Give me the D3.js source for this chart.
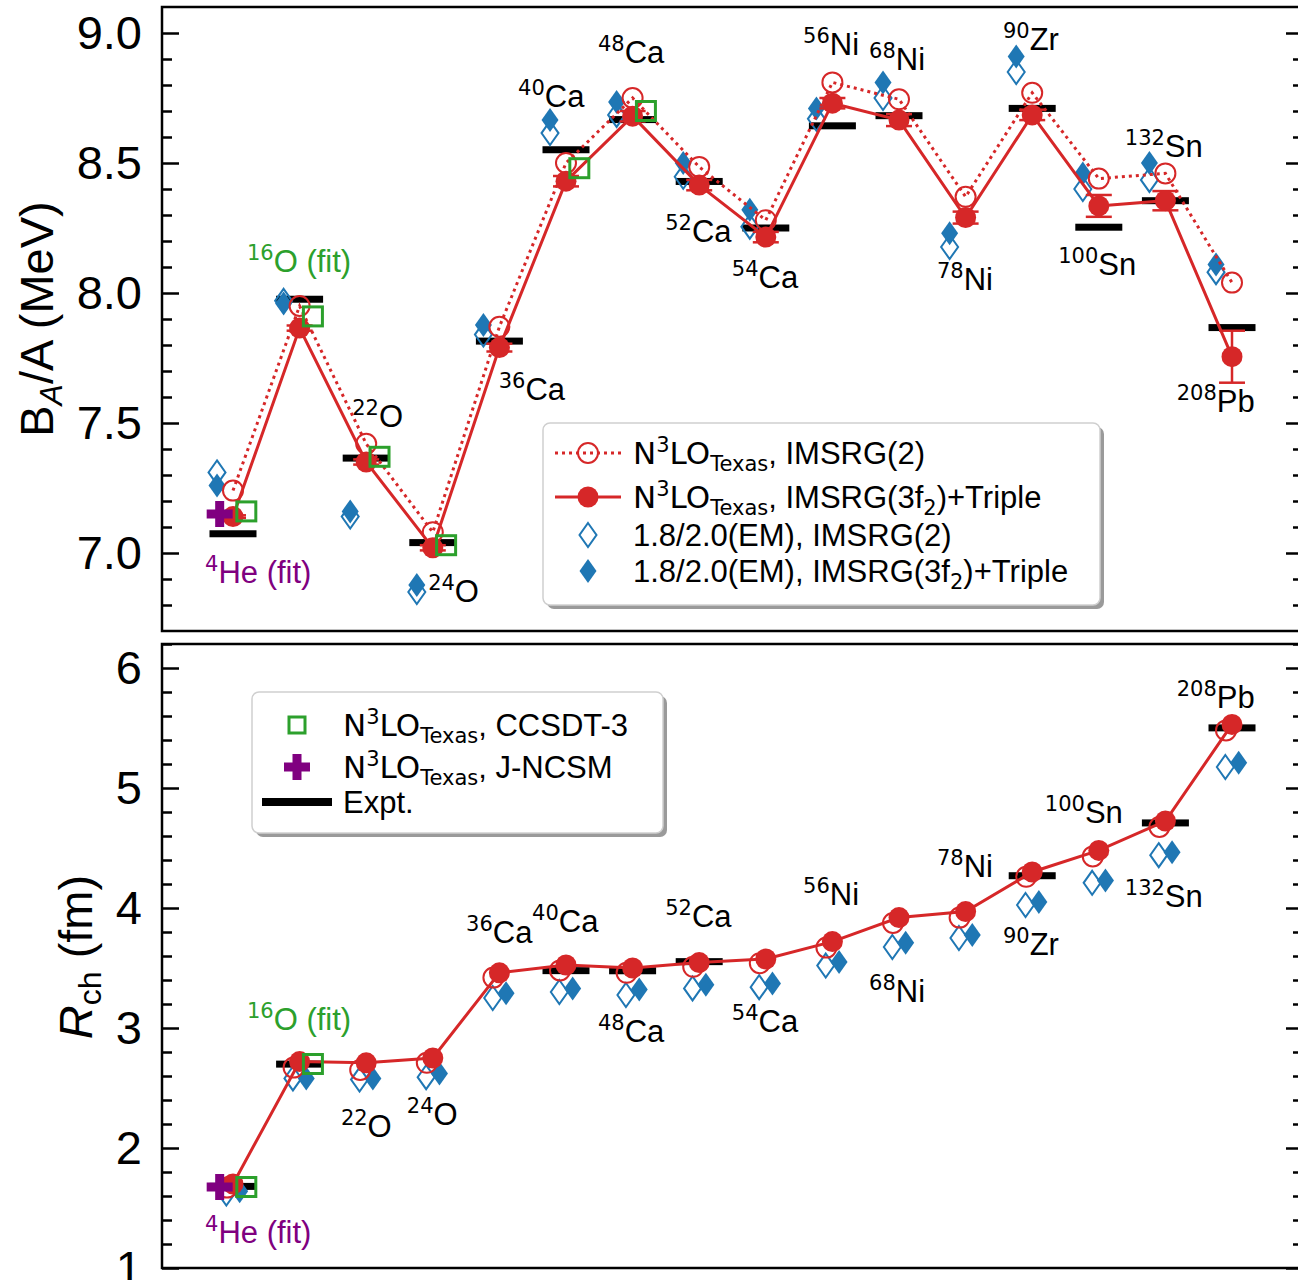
<!DOCTYPE html>
<html>
<head>
<meta charset="utf-8">
<script src="https://cdn.jsdelivr.net/npm/d3@7"></script>
<style>
  body { margin: 0; background: #fff; }
  text { font-family: "Liberation Sans", Arial, sans-serif; }
  .math { font-family: "DejaVu Sans", sans-serif; }
</style>
</head>
<body>
<svg id="chart" width="1298" height="1280"></svg>
<script>
// nuclei along the x axis
const massNumbers = [4, 16, 22, 24, 36, 40, 48, 52, 54, 56, 68, 78, 90, 100, 132, 208];
const elements = ["He", "O", "O", "O", "Ca", "Ca", "Ca", "Ca", "Ca", "Ni", "Ni", "Ni", "Zr", "Sn", "Sn", "Pb"];
const labelSuffix = [" (fit)", " (fit)", "", "", "", "", "", "", "", "", "", "", "", "", "", ""];

// binding energy per nucleon (MeV)
const texasIm2BE = [7.24, 7.95, 7.42, 7.08, 7.87, 8.50, 8.75, 8.485, 8.28, 8.81, 8.745, 8.37, 8.77, 8.44, 8.46, 8.04];
const texasIm3BE = [7.14, 7.865, 7.35, 7.02, 7.79, 8.43, 8.68, 8.415, 8.215, 8.73, 8.665, 8.29, 8.685, 8.335, 8.355, 7.755];
const texasIm3BEErr = [0.005, 0.01, 0.01, 0.01, 0.015, 0.02, 0.02, 0.02, 0.02, 0.02, 0.023, 0.023, 0.02, 0.042, 0.037, 0.1];
const emIm2BE = [7.31, 7.97, 7.14, 6.85, 7.84, 8.615, 8.685, 8.447, 8.255, 8.67, 8.75, 8.177, 8.85, 8.40, 8.435, 8.08];
const emIm3BE = [7.26, 7.96, 7.16, 6.877, 7.877, 8.665, 8.735, 8.50, 8.32, 8.71, 8.81, 8.23, 8.91, 8.46, 8.50, 8.11];
const ccsdtBE = [7.16, 7.91, 7.37, 7.03, null, 8.48, 8.70, null, null, null, null, null, null, null, null, null];
const ncsmBE = [7.15, null, null, null, null, null, null, null, null, null, null, null, null, null, null, null];
const exptBE = [7.074, 7.976, 7.365, 7.04, 7.815, 8.551, 8.667, 8.429, 8.25, 8.643, 8.682, null, 8.71, 8.253, 8.355, 7.867];

// charge radii (fm)
const texasIm2R = [1.67, 2.67, 2.65, 2.71, 3.42, 3.48, 3.46, 3.51, 3.54, 3.67, 3.875, 3.92, 4.26, 4.43, 4.675, 5.48];
const texasIm3R = [1.70, 2.72, 2.71, 2.75, 3.46, 3.525, 3.50, 3.545, 3.575, 3.72, 3.92, 3.97, 4.30, 4.48, 4.725, 5.53];
const emIm2R = [1.62, 2.58, 2.57, 2.59, 3.25, 3.30, 3.275, 3.33, 3.34, 3.52, 3.675, 3.75, 4.025, 4.21, 4.44, 5.175];
const emIm3R = [1.64, 2.58, 2.58, 2.62, 3.29, 3.33, 3.32, 3.36, 3.37, 3.55, 3.71, 3.775, 4.05, 4.23, 4.465, 5.21];
const ccsdtR = [1.675, 2.70, null, null, null, null, null, null, null, null, null, null, null, null, null, null];
const ncsmR = [1.675, null, null, null, null, null, null, null, null, null, null, null, null, null, null, null];
const exptR = [1.68, 2.699, null, null, null, 3.478, 3.477, 3.553, null, null, null, null, 4.269, null, 4.709, 5.501];

// nucleus label anchors in data units [x index, y value]
const labelAtBE = [[-0.42, 6.885], [0.21, 8.08], [1.79, 7.485], [2.93, 6.81], [3.99, 7.59], [4.28, 8.715], [5.48, 8.885], [6.49, 8.196],
  [7.49, 8.02], [8.56, 8.915], [9.55, 8.858], [10.57, 8.01], [11.56, 8.935], [12.39, 8.07], [13.39, 8.523], [14.17, 7.542]];
const labelAtR = [[-0.42, 1.21], [0.21, 2.98], [1.62, 2.09], [2.61, 2.19], [3.5, 3.71], [4.49, 3.80], [5.48, 2.88], [6.49, 3.84],
  [7.49, 2.97], [8.56, 4.025], [9.55, 3.22], [10.57, 4.26], [11.56, 3.61], [12.19, 4.71], [13.39, 4.01], [14.17, 5.67]];

const ticksBE = [7.0, 7.5, 8.0, 8.5, 9.0];
const ticksR = [1, 2, 3, 4, 5, 6];

const RED = "#d62728", BLUE = "#1f77b4", GREEN = "#2ca02c", PURPLE = "#800080";
const labelColor = [PURPLE, GREEN];

const svg = d3.select("#chart");
const x = d3.scaleLinear().domain([-1.066, 16.066]).range([162, 1303]);
const yTop = d3.scaleLinear().domain([6.7, 9.1]).range([631, 7]);
const yBot = d3.scaleLinear().domain([1, 6.2]).range([1268, 644]);
const idx = d3.range(massNumbers.length);

const diamond = (cx, cy) => `M${cx},${cy - 12}L${cx + 8.5},${cy}L${cx},${cy + 12}L${cx - 8.5},${cy}Z`;
const plus = (cx, cy) => `M${cx - 4.5},${cy - 13}h9v8.5h8.5v9h-8.5v8.5h-9v-8.5h-8.5v-9h8.5Z`;

const panels = [
  { y: yTop, major: ticksBE, minor: d3.range(6.8, 9.05, 0.1), expt: exptBE, em2: emIm2BE, em3: emIm3BE,
    tx2: texasIm2BE, tx3: texasIm3BE, err: texasIm3BEErr, cc: ccsdtBE, ncsm: ncsmBE, labels: labelAtBE,
    fmt: d3.format(".1f"), dx: { em2: -0.24, em3: -0.24, tx2: 0, cc: 0.2, ncsm: -0.2 }, dotted: true },
  { y: yBot, major: ticksR, minor: d3.range(1.2, 6.25, 0.2), expt: exptR, em2: emIm2R, em3: emIm3R,
    tx2: texasIm2R, tx3: texasIm3R, err: null, cc: ccsdtR, ncsm: ncsmR, labels: labelAtR,
    fmt: d3.format("d"), dx: { em2: -0.1, em3: 0.1, tx2: -0.09, cc: 0.2, ncsm: -0.2 }, dotted: false },
];

panels.forEach((p) => {
  const g = svg.append("g");
  const [y0, y1] = p.y.range();

  // axes: ticks pointing inward on both sides
  const minor = p.minor.filter((v) => !p.major.some((m) => Math.abs(m - v) < 1e-6));
  const left = g.append("g").attr("transform", `translate(${x.range()[0]},0)`)
    .call(d3.axisLeft(p.y).tickValues(p.major).tickSize(-17).tickPadding(20).tickFormat(p.fmt));
  left.selectAll("text").style("font-size", "47px").attr("fill", "#000")
    .attr("font-family", "'Liberation Sans', Arial, sans-serif");
  g.append("g").attr("transform", `translate(${x.range()[0]},0)`)
    .call(d3.axisLeft(p.y).tickValues(minor).tickSize(-10).tickFormat(""));
  g.append("g").attr("transform", `translate(${x.range()[1]},0)`)
    .call(d3.axisRight(p.y).tickValues(p.major).tickSize(-17).tickFormat(""));
  g.append("g").attr("transform", `translate(${x.range()[1]},0)`)
    .call(d3.axisRight(p.y).tickValues(minor).tickSize(-10).tickFormat(""));
  g.selectAll(".domain").remove();
  g.selectAll(".tick line").attr("stroke", "#000").attr("stroke-width", 2.5);

  g.append("rect")
    .attr("x", x.range()[0]).attr("y", y1)
    .attr("width", x.range()[1] - x.range()[0]).attr("height", y0 - y1)
    .attr("fill", "none").attr("stroke", "#000").attr("stroke-width", 2.5);

  // experiment bars
  g.selectAll(".expt").data(idx.filter((i) => p.expt[i] != null)).enter()
    .append("rect")
    .attr("x", (i) => x(i) - 23.5).attr("y", (i) => p.y(p.expt[i]) - 3.5)
    .attr("width", 47).attr("height", 7).attr("fill", "#000");

  // 1.8/2.0(EM) diamonds
  g.selectAll(".em2").data(idx).enter().append("path")
    .attr("d", (i) => diamond(x(i + p.dx.em2), p.y(p.em2[i])))
    .attr("fill", "#fff").attr("fill-opacity", 0).attr("stroke", BLUE).attr("stroke-width", 2);
  g.selectAll(".em3").data(idx).enter().append("path")
    .attr("d", (i) => diamond(x(i + p.dx.em3), p.y(p.em3[i])))
    .attr("fill", BLUE);

  // N3LO Texas IMSRG(2)
  if (p.dotted) {
    g.append("path")
      .attr("d", d3.line().x((i) => x(i + p.dx.tx2)).y((i) => p.y(p.tx2[i]))(idx))
      .attr("fill", "none").attr("stroke", RED).attr("stroke-width", 3).attr("stroke-dasharray", "3,4");
  }
  g.selectAll(".tx2").data(idx).enter().append("circle")
    .attr("cx", (i) => x(i + p.dx.tx2)).attr("cy", (i) => p.y(p.tx2[i])).attr("r", 10)
    .attr("fill", "none").attr("stroke", RED).attr("stroke-width", 2);

  // N3LO Texas IMSRG(3f2)+Triple
  g.append("path")
    .attr("d", d3.line().x((i) => x(i)).y((i) => p.y(p.tx3[i]))(idx))
    .attr("fill", "none").attr("stroke", RED).attr("stroke-width", 3);
  if (p.err) {
    const eb = g.selectAll(".err").data(idx).enter().append("g").attr("stroke", RED).attr("stroke-width", 2.5);
    eb.append("line")
      .attr("x1", (i) => x(i)).attr("x2", (i) => x(i))
      .attr("y1", (i) => p.y(p.tx3[i] - p.err[i])).attr("y2", (i) => p.y(p.tx3[i] + p.err[i]));
    [-1, 1].forEach((s) => {
      eb.append("line")
        .attr("x1", (i) => x(i) - 13).attr("x2", (i) => x(i) + 13)
        .attr("y1", (i) => p.y(p.tx3[i] + s * p.err[i])).attr("y2", (i) => p.y(p.tx3[i] + s * p.err[i]));
    });
  }
  g.selectAll(".tx3").data(idx).enter().append("circle")
    .attr("cx", (i) => x(i)).attr("cy", (i) => p.y(p.tx3[i])).attr("r", 10.5)
    .attr("fill", RED);

  // CCSDT-3 squares and J-NCSM plus
  g.selectAll(".cc").data(idx.filter((i) => p.cc[i] != null)).enter().append("rect")
    .attr("x", (i) => x(i + p.dx.cc) - 9.5).attr("y", (i) => p.y(p.cc[i]) - 9.5)
    .attr("width", 19).attr("height", 19)
    .attr("fill", "none").attr("stroke", GREEN).attr("stroke-width", 3);
  g.selectAll(".ncsm").data(idx.filter((i) => p.ncsm[i] != null)).enter().append("path")
    .attr("d", (i) => plus(x(i + p.dx.ncsm), p.y(p.ncsm[i])))
    .attr("fill", PURPLE);

  // nucleus labels
  idx.forEach((i) => {
    const [lx, ly] = p.labels[i];
    const t = g.append("text")
      .attr("x", x(lx)).attr("y", p.y(ly))
      .attr("fill", labelColor[i] || "#000")
      .style("font-size", "31px");
    t.append("tspan").attr("class", "math").text(massNumbers[i]).style("font-size", "21px").attr("dy", -12);
    t.append("tspan").text(elements[i] + labelSuffix[i]).attr("dy", 12);
  });
});

// axis titles
const titleTop = svg.append("text")
  .attr("transform", "translate(53,319) rotate(-90)")
  .attr("text-anchor", "middle").style("font-size", "47px");
titleTop.append("tspan").text("B");
titleTop.append("tspan").text("A").style("font-size", "32px").style("font-style", "italic").attr("dy", 9);
titleTop.append("tspan").text("/A (MeV)").attr("dy", -9);

const titleBot = svg.append("text")
  .attr("transform", "translate(92,957) rotate(-90)")
  .attr("text-anchor", "middle").style("font-size", "47px");
titleBot.append("tspan").text("R").style("font-style", "italic");
titleBot.append("tspan").text("ch").style("font-size", "32px").attr("dy", 9);
titleBot.append("tspan").text(" (fm)").attr("dy", -9);

// legends
const n3lo = (t, rest) => {
  t.append("tspan").attr("class", "math").text("N");
  t.append("tspan").attr("class", "math").text("3").style("font-size", "21px").attr("dy", -12);
  t.append("tspan").attr("class", "math").text("LO").attr("dy", 12);
  t.append("tspan").attr("class", "math").text("Texas").style("font-size", "21px").attr("dy", 7);
  t.append("tspan").text(",").attr("dy", -7);
  rest(t);
};
const withSub2 = (before, after) => (t) => {
  t.append("tspan").text(before);
  t.append("tspan").attr("class", "math").text("2").style("font-size", "21px").attr("dy", 7);
  t.append("tspan").text(after).attr("dy", -7);
};

const legendBox = (x0, y0, w, h) => {
  svg.append("rect").attr("x", x0 + 4).attr("y", y0 + 4).attr("width", w).attr("height", h)
    .attr("rx", 7).attr("fill", "#9a9a9a");
  svg.append("rect").attr("x", x0).attr("y", y0).attr("width", w).attr("height", h)
    .attr("rx", 7).attr("fill", "#fff").attr("stroke", "#cfcfcf").attr("stroke-width", 1.5);
};

const legendTop = [
  { kind: "tx2", text: (t) => n3lo(t, (s) => s.append("tspan").text(" IMSRG(2)")) },
  { kind: "tx3", text: (t) => n3lo(t, withSub2(" IMSRG(3f", ")+Triple")) },
  { kind: "em2", text: (t) => t.append("tspan").text("1.8/2.0(EM), IMSRG(2)") },
  { kind: "em3", text: (t) => withSub2("1.8/2.0(EM), IMSRG(3f", ")+Triple")(t) },
];
const legendBot = [
  { kind: "cc", text: (t) => n3lo(t, (s) => s.append("tspan").text(" CCSDT-3")) },
  { kind: "ncsm", text: (t) => n3lo(t, (s) => s.append("tspan").text(" J-NCSM")) },
  { kind: "expt", text: (t) => t.append("tspan").text("Expt.") },
];

const drawHandle = (kind, cx, cy) => {
  if (kind === "tx2") {
    svg.append("line").attr("x1", cx - 33).attr("x2", cx + 33).attr("y1", cy).attr("y2", cy)
      .attr("stroke", RED).attr("stroke-width", 3).attr("stroke-dasharray", "3,4");
    svg.append("circle").attr("cx", cx).attr("cy", cy).attr("r", 10)
      .attr("fill", "none").attr("stroke", RED).attr("stroke-width", 2);
  } else if (kind === "tx3") {
    svg.append("line").attr("x1", cx - 33).attr("x2", cx + 33).attr("y1", cy).attr("y2", cy)
      .attr("stroke", RED).attr("stroke-width", 3);
    svg.append("circle").attr("cx", cx).attr("cy", cy).attr("r", 10.5).attr("fill", RED);
  } else if (kind === "em2") {
    svg.append("path").attr("d", diamond(cx, cy)).attr("fill", "none").attr("stroke", BLUE).attr("stroke-width", 2);
  } else if (kind === "em3") {
    svg.append("path").attr("d", diamond(cx, cy)).attr("fill", BLUE);
  } else if (kind === "cc") {
    svg.append("rect").attr("x", cx - 8).attr("y", cy - 8).attr("width", 16).attr("height", 16)
      .attr("fill", "none").attr("stroke", GREEN).attr("stroke-width", 3);
  } else if (kind === "ncsm") {
    svg.append("path").attr("d", plus(cx, cy)).attr("fill", PURPLE);
  } else if (kind === "expt") {
    svg.append("rect").attr("x", cx - 35).attr("y", cy - 4).attr("width", 70).attr("height", 8).attr("fill", "#000");
  }
};

legendBox(543, 423, 557, 182);
[453, 497, 535, 571].forEach((cy, k) => {
  drawHandle(legendTop[k].kind, 588, cy);
  const t = svg.append("text").attr("x", 633).attr("y", cy + 11).style("font-size", "31px");
  legendTop[k].text(t);
});

legendBox(252, 692, 411, 141);
[725, 767, 802].forEach((cy, k) => {
  drawHandle(legendBot[k].kind, 297, cy);
  const t = svg.append("text").attr("x", 343).attr("y", cy + 11).style("font-size", "31px");
  legendBot[k].text(t);
});
</script>
</body>
</html>
